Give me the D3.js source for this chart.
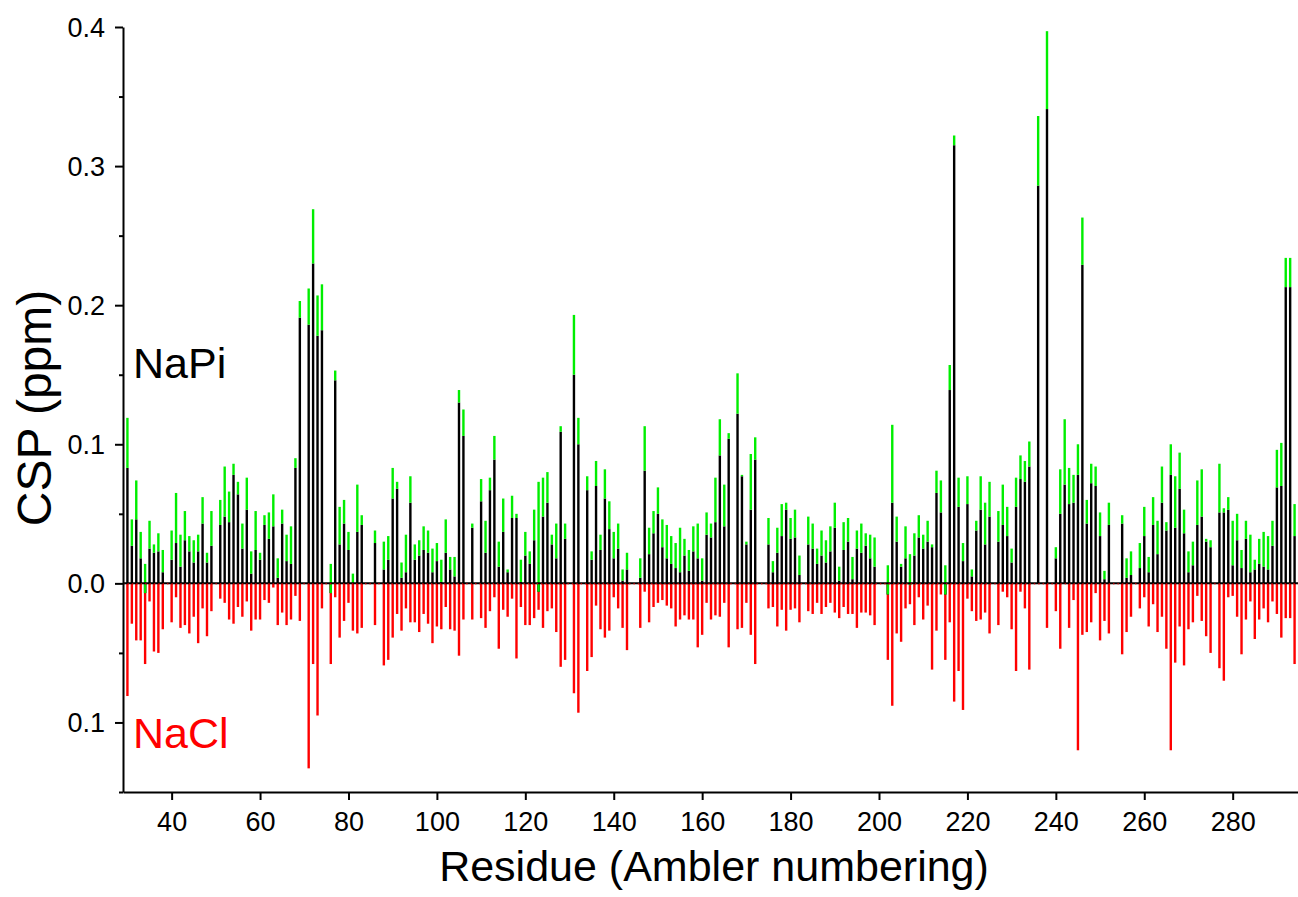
<!DOCTYPE html>
<html>
<head>
<meta charset="utf-8">
<script src="https://cdn.jsdelivr.net/npm/d3@7"></script>
<style>
  body { margin: 0; background: #fff; }
  svg { display: block; font-family: Arial, "Liberation Sans", sans-serif; }
</style>
</head>
<body>
<svg id="chart"></svg>
<script>
// residues that have a peak (gaps are unassigned residues)
let residues = [30,31,32,33,34,35,36,37,38,40,41,42,43,44,45,46,47,48,49,51,52,53,54,55,56,57,58,59,60,
  61,62,63,64,65,66,67,68,69,71,72,73,74,76,77,78,79,80,81,82,83,86,88,89,90,91,92,93,94,95,
  96,97,98,99,100,101,102,103,104,105,106,108,110,111,112,113,114,115,116,117,118,119,120,121,122,123,124,125,126,127,
  128,129,131,132,134,135,136,137,138,139,140,141,142,143,146,147,148,149,150,151,152,153,154,155,156,157,158,159,160,
  161,162,163,164,165,166,168,169,170,171,172,175,176,177,178,179,180,181,182,184,185,186,187,188,189,190,191,192,193,
  194,195,196,197,198,199,202,203,204,205,206,207,208,209,210,211,212,213,214,215,216,217,218,219,220,221,222,223,224,225,
  227,228,229,230,231,232,233,234,236,238,240,241,242,243,244,245,246,247,248,249,250,251,252,255,256,257,259,260,
  261,262,263,264,265,266,267,268,269,270,271,272,273,274,275,277,278,279,280,281,282,283,284,285,286,287,288,289,290,
  291,292,293,294]

// NaPi CSP (black bars)
let napiBlack = [0.083,0.027,0.046,0.018,-0.007,0.025,0.022,0.023,0.008,0.017,0.029,0.012,0.031,0.023,0.015,0.023,0.043,0.015,0.027,0.042,0.048,0.044,0.078,0.064,0.025,0.053,0.007,0.024,0.017,
  0.042,0.032,0.041,0.004,0.043,0.016,0.014,0.083,0.191,0.186,0.230,0.178,0.182,-0.007,0.146,0.028,0.043,0.024,0.000,0.037,0.042,0.029,0.010,0.017,0.061,0.068,0.004,0.008,0.058,0.017,
  0.020,0.024,0.022,0.008,0.016,0.001,0.022,0.010,0.005,0.130,0.106,0.040,0.059,0.022,0.067,0.089,0.012,0.037,0.008,0.047,0.047,0.001,0.020,0.014,0.031,-0.006,0.048,0.058,0.028,0.018,
  0.109,0.032,0.150,0.100,0.067,0.017,0.070,0.024,0.061,0.039,0.018,0.025,0.002,0.010,0.004,0.081,0.021,0.036,0.050,0.026,0.018,0.014,0.011,0.008,0.020,0.009,0.023,0.018,0.002,
  0.035,0.033,0.044,0.092,0.041,0.104,0.122,0.077,0.028,0.053,0.089,0.028,0.008,0.022,0.034,0.053,0.032,0.033,0.006,0.028,0.025,0.014,0.020,0.015,0.023,0.040,0.002,0.024,0.030,
  0.003,0.025,0.022,0.027,0.018,0.012,-0.008,0.058,0.030,0.012,0.018,-0.001,0.020,0.033,0.025,0.030,0.026,0.065,0.051,-0.008,0.139,0.315,0.055,0.016,0.057,0.005,0.038,0.053,0.028,0.048,
  0.030,0.042,0.034,0.015,0.055,0.075,0.073,0.084,0.286,0.341,0.018,0.050,0.071,0.057,0.058,0.078,0.229,0.043,0.072,0.070,0.034,0.003,0.042,0.043,0.004,0.006,0.011,0.034,
  0.008,0.042,0.021,0.058,0.038,0.078,0.040,0.068,0.036,0.008,0.013,0.042,0.048,0.030,0.026,0.051,0.051,0.053,0.013,0.031,0.011,0.032,0.008,0.010,0.014,0.012,0.010,0.027,0.069,
  0.070,0.213,0.213,0.034]

// top of the green segment stacked on the black bar
let napiGreen = [0.119,0.046,0.074,0.037,0.014,0.045,0.028,0.036,0.024,0.038,0.065,0.035,0.052,0.034,0.031,0.035,0.062,0.022,0.052,0.060,0.084,0.066,0.086,0.073,0.043,0.076,0.023,0.052,0.022,
  0.049,0.051,0.064,0.018,0.053,0.035,0.041,0.090,0.203,0.212,0.269,0.207,0.215,0.014,0.153,0.055,0.060,0.037,0.007,0.071,0.049,0.038,0.030,0.034,0.083,0.073,0.015,0.035,0.077,0.028,
  0.031,0.041,0.038,0.025,0.029,0.017,0.046,0.019,0.019,0.139,0.125,0.043,0.075,0.045,0.076,0.106,0.030,0.061,0.010,0.063,0.050,0.017,0.037,0.023,0.053,0.073,0.076,0.080,0.035,0.043,
  0.113,0.043,0.193,0.119,0.077,0.023,0.088,0.035,0.082,0.059,0.037,0.043,0.010,0.022,0.018,0.113,0.040,0.052,0.069,0.046,0.042,0.034,0.029,0.040,0.032,0.024,0.041,0.043,0.018,
  0.051,0.043,0.076,0.118,0.071,0.108,0.151,0.078,0.030,0.093,0.105,0.047,0.016,0.040,0.057,0.058,0.047,0.053,0.020,0.048,0.043,0.025,0.038,0.031,0.041,0.058,0.012,0.044,0.047,
  0.019,0.038,0.043,0.036,0.035,0.033,0.013,0.114,0.048,0.014,0.041,0.021,0.036,0.049,0.035,0.045,0.028,0.081,0.074,0.013,0.157,0.322,0.076,0.029,0.077,0.010,0.045,0.077,0.058,0.073,
  0.052,0.071,0.055,0.025,0.076,0.092,0.088,0.102,0.336,0.397,0.026,0.082,0.118,0.083,0.078,0.100,0.263,0.060,0.086,0.084,0.051,0.009,0.058,0.049,0.018,0.023,0.029,0.055,
  0.019,0.062,0.045,0.084,0.044,0.100,0.077,0.094,0.053,0.023,0.030,0.074,0.082,0.032,0.031,0.086,0.054,0.062,0.045,0.050,0.024,0.045,0.035,0.017,0.032,0.037,0.034,0.045,0.096,
  0.101,0.234,0.234,0.057]

// NaCl CSP (red bars, drawn downwards)
let naclCsp = [0.081,0.029,0.041,0.041,0.058,0.013,0.049,0.050,0.033,0.028,0.010,0.032,0.030,0.036,0.024,0.043,0.018,0.038,0.020,0.011,0.014,0.026,0.029,0.017,0.024,0.013,0.034,0.026,0.026,
  0.012,0.014,0.003,0.030,0.021,0.030,0.026,0.009,0.027,0.133,0.058,0.095,0.018,0.058,0.010,0.039,0.027,0.014,0.034,0.036,0.032,0.030,0.059,0.055,0.039,0.022,0.034,0.018,0.028,0.028,
  0.035,0.022,0.029,0.043,0.031,0.033,0.017,0.033,0.034,0.052,0.026,0.026,0.025,0.032,0.020,0.010,0.047,0.019,0.024,0.011,0.054,0.017,0.030,0.030,0.025,0.019,0.032,0.020,0.018,0.035,
  0.060,0.055,0.079,0.093,0.063,0.053,0.016,0.033,0.039,0.034,0.010,0.018,0.032,0.048,0.032,0.006,0.028,0.017,0.014,0.012,0.016,0.018,0.031,0.026,0.023,0.026,0.026,0.046,0.037,
  0.014,0.026,0.023,0.024,0.014,0.046,0.033,0.032,0.014,0.037,0.058,0.018,0.017,0.031,0.019,0.034,0.019,0.018,0.028,0.020,0.022,0.014,0.022,0.017,0.014,0.021,0.025,0.017,0.022,
  0.022,0.032,0.021,0.021,0.023,0.030,0.055,0.088,0.036,0.042,0.018,0.015,0.030,0.010,0.026,0.016,0.062,0.034,0.008,0.055,0.028,0.085,0.063,0.091,0.011,0.020,0.027,0.026,0.021,0.036,
  0.030,0.006,0.010,0.033,0.063,0.006,0.018,0.062,0.000,0.032,0.020,0.047,0.000,0.032,0.012,0.120,0.037,0.035,0.028,0.007,0.041,0.027,0.036,0.051,0.035,0.024,0.018,0.010,
  0.031,0.015,0.035,0.024,0.047,0.120,0.057,0.031,0.059,0.033,0.028,0.009,0.027,0.038,0.050,0.061,0.070,0.010,0.009,0.024,0.051,0.026,0.013,0.040,0.026,0.018,0.028,0.013,0.022,
  0.039,0.025,0.025,0.058]

let xTickValues = [40, 60, 80, 100, 120, 140, 160, 180, 200, 220, 240, 260, 280]
let yTickValues = [-0.1, 0.0, 0.1, 0.2, 0.3, 0.4]
let yMinorTicks = [-0.15, -0.05, 0.05, 0.15, 0.25, 0.35]

let width = 1298
let height = 897
let plotLeft = 123
let plotRight = 1299
let plotTop = 27
let plotBottom = 792
let barWidth = 2.4

let svg = d3.select('#chart')
  .attr('width', width)
  .attr('height', height)

let xScale = d3.scaleLinear().domain([29, 295]).range([plotLeft, plotRight])
let yScale = d3.scaleLinear().domain([-0.15, 0.4]).range([plotBottom, plotTop])

let data = residues.map((r, i) => ({
  res: r,
  black: napiBlack[i],
  green: napiGreen[i],
  nacl: naclCsp[i]
}))

let bars = svg.append('g')

// NaCl, downward
bars.selectAll('.nacl')
  .data(data)
  .enter()
  .append('rect')
  .attr('x', d => xScale(d.res) - barWidth / 2)
  .attr('width', barWidth)
  .attr('y', yScale(0))
  .attr('height', d => yScale(-d.nacl) - yScale(0))
  .attr('fill', '#ff0000')

// zero line
svg.append('line')
  .attr('x1', plotLeft).attr('x2', plotRight)
  .attr('y1', yScale(0)).attr('y2', yScale(0))
  .attr('stroke', '#000')
  .attr('stroke-width', 2)
svg.append('line')
  .attr('x1', plotLeft).attr('x2', plotRight)
  .attr('y1', yScale(0) + 0.5).attr('y2', yScale(0) + 0.5)
  .attr('stroke', '#ff0000')
  .attr('stroke-width', 1)
  .attr('stroke-dasharray', '1.5,2.9')

// NaPi black bars
bars.append('g').selectAll('rect')
  .data(data)
  .enter()
  .append('rect')
  .attr('x', d => xScale(d.res) - barWidth / 2)
  .attr('width', barWidth)
  .attr('y', d => yScale(Math.max(d.black, 0)))
  .attr('height', d => Math.abs(yScale(d.black) - yScale(0)))
  .attr('fill', '#000')

// green segment stacked on top of black
bars.append('g').selectAll('rect')
  .data(data)
  .enter()
  .append('rect')
  .attr('x', d => xScale(d.res) - barWidth / 2)
  .attr('width', barWidth)
  .attr('y', d => yScale(d.green))
  .attr('height', d => yScale(d.black) - yScale(d.green))
  .attr('fill', '#00ee00')

// axes
let yAxis = d3.axisLeft(yScale)
  .tickValues(yTickValues)
  .tickSize(8)
  .tickSizeOuter(0)
  .tickFormat(d => Math.abs(d).toFixed(1))

let yAxisG = svg.append('g')
  .attr('transform', 'translate(' + plotLeft + ',0)')
  .call(yAxis)

svg.append('g')
  .attr('transform', 'translate(' + plotLeft + ',0)')
  .call(d3.axisLeft(yScale).tickValues(yMinorTicks).tickSize(4).tickSizeOuter(0).tickFormat(''))
  .call(g => g.select('.domain').remove())

let xAxis = d3.axisBottom(xScale)
  .tickValues(xTickValues)
  .tickSize(8)
  .tickSizeOuter(0)
  .tickFormat(d3.format('d'))

let xAxisG = svg.append('g')
  .attr('transform', 'translate(0,' + plotBottom + ')')
  .call(xAxis)

svg.selectAll('.domain, .tick line')
  .attr('stroke', '#000')
  .attr('stroke-width', 2)

yAxisG.selectAll('text')
  .attr('font-size', 27)
  .attr('font-family', 'Arial, "Liberation Sans", sans-serif')
  .attr('fill', '#000')
  .attr('x', -18)
  .attr('dy', '0.35em')

xAxisG.selectAll('text')
  .attr('font-size', 27)
  .attr('font-family', 'Arial, "Liberation Sans", sans-serif')
  .attr('fill', '#000')
  .attr('y', 20)

// titles
svg.append('text')
  .attr('x', 714)
  .attr('y', 881)
  .attr('text-anchor', 'middle')
  .attr('font-size', 43)
  .text('Residue (Ambler numbering)')

svg.append('text')
  .attr('transform', 'translate(51,408) rotate(-90)')
  .attr('text-anchor', 'middle')
  .attr('font-size', 48)
  .text('CSP (ppm)')

svg.append('text')
  .attr('x', 133)
  .attr('y', 378)
  .attr('font-size', 43)
  .attr('fill', '#000')
  .text('NaPi')

svg.append('text')
  .attr('x', 133)
  .attr('y', 748)
  .attr('font-size', 43)
  .attr('fill', '#ff0000')
  .text('NaCl')
</script>
</body>
</html>
